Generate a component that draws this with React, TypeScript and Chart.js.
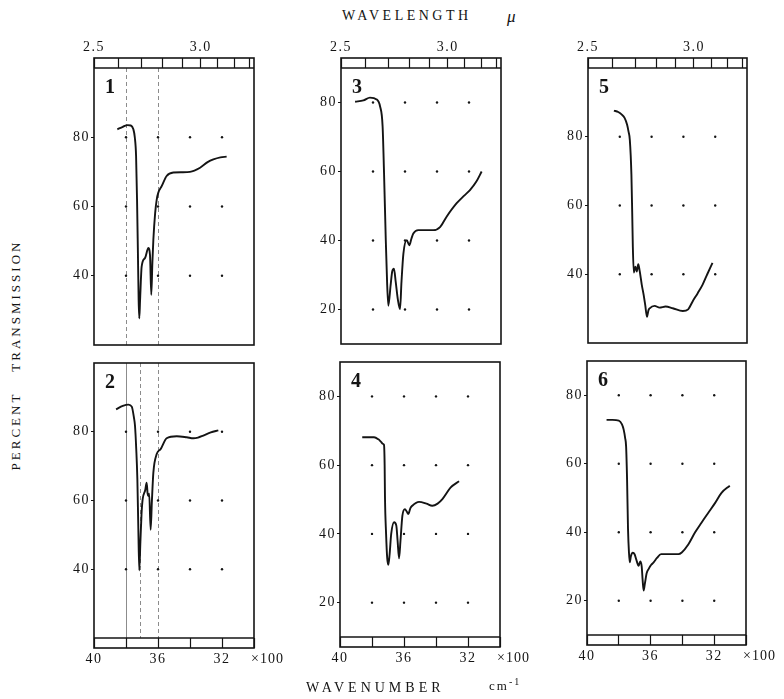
import React, { useEffect, useRef } from "react";
import { Chart, registerables } from "chart.js";

Chart.register(...registerables);

const FONT = "'Liberation Serif', 'DejaVu Serif', serif";
const INK = "#141414";
const STRIP = 10;

// ---- axis tick definitions ----
const wavelengthTicks = [2.5, 2.6, 2.7, 2.8, 2.9, 3.0, 3.1, 3.2, 3.3];
const wavelengthLabels = ["2.5", "", "", "", "", "3.0", "", "", ""];
const wavenumberTicks = [4000, 3800, 3600, 3400, 3200, 3000];
const wavenumberLabels = ["40", "", "36", "", "32", ""];
const dotWavenumbers = [3800, 3600, 3400, 3200];
const levelsHigh = [40, 60, 80];
const levelsLow = [20, 40, 60, 80];

// ---- spectrum 1 ----
const wn1 = [3854, 3820, 3790, 3770, 3754, 3745, 3737, 3731, 3726, 3721, 3717, 3712, 3702, 3681, 3660, 3650, 3642, 3635, 3629, 3618, 3608, 3598, 3577, 3546, 3504, 3450, 3400, 3337, 3290, 3254, 3210, 3171];
const t1 = [82.3, 83, 83.5, 83.4, 82.3, 80, 74.6, 62, 48, 33, 27.7, 33, 42.7, 45.1, 48, 46, 34.5, 44, 50.4, 58, 62, 64, 65.9, 68.8, 69.8, 69.9, 70, 71.2, 72.8, 73.6, 74.2, 74.4];

// ---- spectrum 2 ----
const wn2 = [3862, 3820, 3785, 3764, 3750, 3744, 3736, 3729, 3723, 3717, 3710, 3703, 3696, 3680, 3671, 3665, 3660, 3655, 3646, 3638, 3629, 3608, 3583, 3546, 3483, 3420, 3379, 3350, 3317, 3270, 3223];
const t2 = [86.5, 87.5, 87.9, 87.3, 84, 81.9, 75, 66.2, 52, 39.7, 48, 56, 60.3, 63, 65.2, 62, 61.3, 62, 51.5, 60, 68.1, 73.5, 75, 78.1, 78.7, 78.4, 78.1, 78.3, 78.9, 79.8, 80.4];

// ---- spectrum 3 ----
const wn3 = [3912, 3860, 3819, 3777, 3756, 3740, 3731, 3720, 3712, 3704, 3690, 3680, 3669, 3658, 3645, 3631, 3622, 3610, 3589, 3573, 3560, 3548, 3517, 3470, 3423, 3381, 3340, 3277, 3230, 3194, 3155, 3121];
const t3 = [80.2, 80.6, 81.4, 80.9, 78.9, 73.1, 59.5, 40, 28, 21.1, 27, 31, 31.8, 28, 23, 20.1, 28, 36.2, 40.1, 38.6, 40.5, 42, 43, 43, 43, 43.9, 46.9, 50.8, 53, 54.6, 57, 60];

// ---- spectrum 4 ----
const wn4 = [3861, 3820, 3787, 3760, 3746, 3732, 3725, 3721, 3719, 3712, 3705, 3698, 3690, 3680, 3662, 3648, 3640, 3631, 3622, 3610, 3594, 3583, 3573, 3560, 3548, 3506, 3460, 3423, 3390, 3360, 3308, 3256];
const t4 = [68.1, 68.1, 68.1, 67.5, 66.9, 66.2, 65.9, 60, 51.1, 40, 33, 31, 34, 40, 43.4, 42.4, 38, 32.9, 38, 45.3, 47.2, 46.5, 45.8, 47.5, 48.2, 49.3, 48.8, 48.2, 48.8, 50.1, 53.5, 55.3];

// ---- spectrum 5 ----
const wn5 = [3837, 3810, 3789, 3770, 3754, 3745, 3737, 3727, 3722, 3718, 3712, 3702, 3693, 3684, 3675, 3662, 3650, 3640, 3629, 3620, 3612, 3581, 3550, 3512, 3467, 3404, 3370, 3342, 3310, 3279, 3250, 3217];
const t5 = [87.6, 87.2, 86.5, 85.5, 83.5, 81.5, 79.1, 69, 58, 48, 40.5, 42.2, 40.8, 42.9, 41, 37, 34, 31, 27.6, 29.5, 30.1, 30.8, 30.3, 30.6, 30.1, 29.3, 29.8, 32.1, 34.5, 37, 40, 43.3];

// ---- spectrum 6 ----
const wn6 = [3877, 3840, 3800, 3780, 3769, 3760, 3754, 3748, 3742, 3736, 3731, 3724, 3712, 3700, 3690, 3675, 3665, 3656, 3650, 3644, 3636, 3625, 3612, 3596, 3581, 3560, 3534, 3480, 3425, 3404, 3362, 3321, 3280, 3237, 3195, 3154, 3102];
const t6 = [72.8, 72.8, 72.6, 71.5, 69.9, 67.5, 65, 55.4, 40.9, 34, 31.2, 33, 34, 33.5, 32, 30.2, 31.5, 30, 26, 23, 25, 28, 29.3, 30.5, 31.2, 32.5, 33.6, 33.6, 33.6, 34.1, 36.5, 39.9, 42.8, 45.7, 48.5, 51.5, 53.6];

// faint vertical rulings on the original chart paper (wavenumber)
const solidRules2 = [3800];
const dashedRules1 = [3800, 3600];
const dashedRules2 = [3710, 3600];

type PanelCfg = {
  label: string; wn: number[]; t: number[]; yMin: number; yMax: number; levels: number[];
  solid: number[]; dashed: number[]; top: boolean; L: number; R: number; T: number; B: number;
};

const panels: PanelCfg[] = [
  { label: "1", wn: wn1, t: t1, yMin: 20, yMax: 100, levels: levelsHigh, solid: [], dashed: dashedRules1, top: true, L: 94, R: 254, T: 68, B: 345 },
  { label: "2", wn: wn2, t: t2, yMin: 20, yMax: 100, levels: levelsHigh, solid: solidRules2, dashed: dashedRules2, top: false, L: 94, R: 254, T: 363, B: 638 },
  { label: "3", wn: wn3, t: t3, yMin: 10, yMax: 90, levels: levelsLow, solid: [], dashed: [], top: true, L: 341, R: 501, T: 68, B: 344 },
  { label: "4", wn: wn4, t: t4, yMin: 10, yMax: 90, levels: levelsLow, solid: [], dashed: [], top: false, L: 340, R: 500, T: 362, B: 637 },
  { label: "5", wn: wn5, t: t5, yMin: 20, yMax: 100, levels: levelsHigh, solid: [], dashed: [], top: true, L: 588, R: 747, T: 68, B: 343 },
  { label: "6", wn: wn6, t: t6, yMin: 10, yMax: 90, levels: levelsLow, solid: [], dashed: [], top: false, L: 587, R: 746, T: 361, B: 635 },
];

const PAD_L = 45;
const PAD_R = 37;
const TOP_AXIS = 28;
const BOT_AXIS = 30;
const EDGE = 12;

const framePlugin = {
  id: "frame",
  beforeDraw(chart: any) {
    chart.ctx.letterSpacing = "1.5px";
  },
  beforeDatasetsDraw(chart: any, _a: any, o: any) {
    const { ctx, chartArea: a, scales } = chart;
    ctx.save();
    ctx.strokeStyle = "#8c8c8c";
    ctx.lineWidth = 1;
    const draw = (list: number[], dash: number[]) => {
      ctx.setLineDash(dash);
      for (const w of list) {
        const x = Math.round(scales.x.getPixelForValue(w)) + 0.5;
        ctx.beginPath();
        ctx.moveTo(x, a.top);
        ctx.lineTo(x, a.bottom);
        ctx.stroke();
      }
    };
    draw(o.solid || [], []);
    draw(o.dashed || [], [4, 3]);
    ctx.restore();
  },
  afterDraw(chart: any, _a: any, o: any) {
    const { ctx, chartArea: a } = chart;
    const top = o.stripTop ? a.top - STRIP : a.top;
    const bottom = o.stripBottom ? a.bottom + STRIP : a.bottom;
    ctx.save();
    ctx.setLineDash([]);
    ctx.strokeStyle = INK;
    ctx.lineWidth = 1.6;
    ctx.strokeRect(a.left, top, a.right - a.left, bottom - top);
    ctx.lineWidth = 1.3;
    if (o.stripTop) {
      ctx.beginPath(); ctx.moveTo(a.left, a.top); ctx.lineTo(a.right, a.top); ctx.stroke();
    }
    if (o.stripBottom) {
      ctx.beginPath(); ctx.moveTo(a.left, a.bottom); ctx.lineTo(a.right, a.bottom); ctx.stroke();
    }
    ctx.fillStyle = INK;
    ctx.letterSpacing = "0px";
    ctx.font = `bold 20px ${FONT}`;
    ctx.textAlign = "left";
    ctx.textBaseline = "alphabetic";
    ctx.fillText(o.label, a.left + 11, a.top + 25);
    if (o.stripBottom) {
      ctx.letterSpacing = "1px";
      ctx.font = `14px ${FONT}`;
      ctx.textBaseline = "top";
      ctx.fillText("×100", a.right - 3, bottom + 4);
    }
    ctx.restore();
  },
};

function Panel({ cfg }: { cfg: PanelCfg }) {
  const ref = useRef<HTMLCanvasElement>(null);
  const width = PAD_L + (cfg.R - cfg.L) + PAD_R;
  const height = cfg.top ? TOP_AXIS + (cfg.B - cfg.T) + EDGE : EDGE + (cfg.B - cfg.T) + BOT_AXIS;
  const left = cfg.L - PAD_L;
  const top = cfg.top ? cfg.T - TOP_AXIS : cfg.T - EDGE;

  useEffect(() => {
    if (!ref.current) return;
    const line = cfg.wn.map((x, i) => ({ x, y: cfg.t[i] }));
    const dots = dotWavenumbers.flatMap((x) => cfg.levels.map((y) => ({ x, y })));
    const tickFont = { family: FONT, size: 14 };
    const chart = new Chart(ref.current, {
      type: "line",
      data: {
        datasets: [
          {
            data: line,
            borderColor: INK,
            borderWidth: 1.9,
            pointRadius: 0,
            cubicInterpolationMode: "monotone",
            fill: false,
            xAxisID: "x",
            yAxisID: "y",
          } as any,
          {
            type: "scatter",
            data: dots,
            pointRadius: 1.2,
            pointBackgroundColor: INK,
            pointBorderWidth: 0,
            showLine: false,
            xAxisID: "x",
            yAxisID: "y",
          } as any,
        ],
      },
      options: {
        responsive: false,
        animation: false,
        devicePixelRatio: 1,
        layout: {
          padding: { left: 0, right: PAD_R, top: cfg.top ? 0 : EDGE, bottom: cfg.top ? EDGE : 0 },
        },
        plugins: {
          legend: { display: false },
          tooltip: { enabled: false },
          frame: { label: cfg.label, stripTop: cfg.top, stripBottom: !cfg.top, solid: cfg.solid, dashed: cfg.dashed },
        } as any,
        scales: {
          x: {
            type: "linear",
            position: "bottom",
            min: 3000,
            max: 4000,
            reverse: true,
            display: !cfg.top,
            afterBuildTicks: (s: any) => {
              s.ticks = wavenumberTicks.map((v) => ({ value: v }));
            },
            afterFit: (s: any) => {
              s.height = cfg.top ? 0 : BOT_AXIS;
            },
            grid: { drawOnChartArea: false, drawTicks: true, tickLength: STRIP, tickColor: INK, tickWidth: 1.2 },
            border: { display: false },
            ticks: {
              autoSkip: false,
              maxRotation: 0,
              padding: 3,
              color: INK,
              font: tickFont,
              callback: (v: any) => {
                const i = wavenumberTicks.findIndex((w) => Math.abs(w - v) < 1);
                return i >= 0 ? wavenumberLabels[i] : "";
              },
            },
          },
          x2: {
            type: "linear",
            position: "top",
            min: 3000,
            max: 4000,
            reverse: true,
            display: cfg.top,
            afterBuildTicks: (s: any) => {
              s.ticks = wavelengthTicks.map((l) => ({ value: 10000 / l }));
            },
            afterFit: (s: any) => {
              s.height = cfg.top ? TOP_AXIS : 0;
            },
            grid: { drawOnChartArea: false, drawTicks: true, tickLength: STRIP, tickColor: INK, tickWidth: 1.2 },
            border: { display: false },
            ticks: {
              autoSkip: false,
              maxRotation: 0,
              padding: 2,
              color: INK,
              font: tickFont,
              callback: (v: any) => {
                const i = wavelengthTicks.findIndex((l) => Math.abs(10000 / l - v) < 1);
                return i >= 0 ? wavelengthLabels[i] : "";
              },
            },
          },
          y: {
            type: "linear",
            min: cfg.yMin,
            max: cfg.yMax,
            afterBuildTicks: (s: any) => {
              s.ticks = cfg.levels.map((v) => ({ value: v }));
            },
            afterFit: (s: any) => {
              s.width = PAD_L;
            },
            grid: { drawOnChartArea: false, drawTicks: true, tickLength: 3, tickColor: INK, tickWidth: 1 },
            border: { display: false },
            ticks: { padding: 1, color: INK, font: tickFont, callback: (v: any) => String(v) },
          },
        },
      } as any,
      plugins: [framePlugin as any],
    });
    return () => chart.destroy();
  }, []);

  return (
    <canvas
      ref={ref}
      width={width}
      height={height}
      style={{ position: "absolute", left, top, width, height, display: "block" }}
    />
  );
}

export default function App() {
  const title: React.CSSProperties = {
    position: "absolute",
    fontFamily: FONT,
    color: INK,
    whiteSpace: "nowrap",
    lineHeight: 1,
  };
  return (
    <div style={{ position: "absolute", left: 0, top: 0, width: 784, height: 699, overflow: "hidden", background: "#fff" }}>
      {panels.map((p) => (
        <Panel key={p.label} cfg={p} />
      ))}
      <div style={{ ...title, left: 342, top: 9, fontSize: 14, letterSpacing: 3.5 }}>WAVELENGTH</div>
      <div style={{ ...title, left: 507, top: 8, fontSize: 17, fontStyle: "italic" }}>μ</div>
      <div style={{ ...title, left: 306, top: 681, fontSize: 14, letterSpacing: 4 }}>WAVENUMBER</div>
      <div style={{ ...title, left: 489, top: 677, fontSize: 13, letterSpacing: 2 }}>
        cm<sup style={{ fontSize: 10 }}>-1</sup>
      </div>
      <div
        style={{
          ...title,
          left: 15,
          top: 355,
          fontSize: 13,
          letterSpacing: 3,
          transform: "translate(-50%, -50%) rotate(-90deg)",
        }}
      >
        PERCENT<span style={{ display: "inline-block", width: 20 }} />TRANSMISSION
      </div>
    </div>
  );
}
